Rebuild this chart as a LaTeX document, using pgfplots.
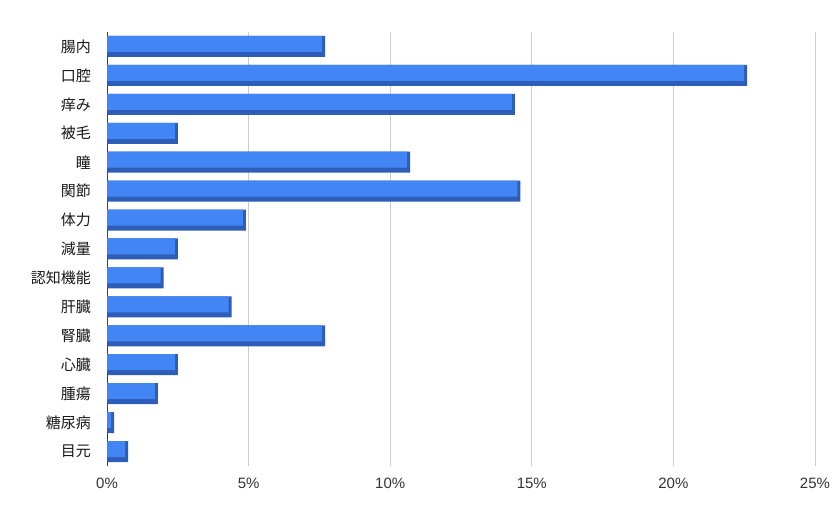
\documentclass[border=0pt]{standalone}
\usepackage{fontspec}
\setmainfont{Noto Sans CJK JP}
\newfontfamily\tickfont{Liberation Sans}
\usepackage{pgfplots}
\usepackage{pgfplotstable}
\pgfplotsset{compat=1.18}

\definecolor{barblue}{HTML}{4285F4}
\definecolor{bardark}{HTML}{2D5DB8}
\definecolor{gridgray}{HTML}{CCCCCC}

% share of answers per topic, %
\pgfplotstableread{
idx val
0  7.7
1  22.6
2  14.4
3  2.5
4  10.7
5  14.6
6  4.9
7  2.5
8  2.0
9  4.4
10 7.7
11 2.5
12 1.8
13 0.25
14 0.75
}\shares

\begin{document}
\begin{tikzpicture}[x=1pt,y=1pt]
\useasboundingbox (-107,-52) rectangle (730,466);
\begin{axis}[
    at={(0,0)}, anchor=south west,
    scale only axis,
    width=708pt, height=434pt,
    xmin=0, xmax=25,
    ymin=-0.5, ymax=14.5,
    y dir=reverse,
    axis y line*=left,
    axis x line*=bottom,
    x axis line style={draw=none},
    y axis line style={draw=black!75, line width=0.8pt},
    major tick length=0pt,
    xtick={0,5,10,15,20,25},
    /pgf/number format/assume math mode=true,
    xticklabel={\pgfmathprintnumber{\tick}\%},
    xticklabel style={font=\tickfont\fontsize{15}{18}\selectfont, text=black!80, inner sep=0pt, yshift=-12pt},
    ytick={0,...,14},
    yticklabels={腸内,口腔,痒み,被毛,瞳,関節,体力,減量,認知機能,肝臓,腎臓,心臓,腫瘍,糖尿病,目元},
    yticklabel style={font=\fontsize{15}{17}\selectfont, text=black!90, inner sep=0pt, xshift=-16pt},
    xmajorgrids,
    grid style={gridgray, line width=0.8pt},
]
\addplot[xbar, bar width=21pt, bar shift=0pt, fill=bardark, draw=none]
    table[x=val, y=idx] {\shares};
\addplot[xbar, bar width=16pt, bar shift=2.5pt, fill=barblue, draw=none, xshift=-3pt]
    table[x=val, y=idx] {\shares};
\end{axis}
\end{tikzpicture}
\end{document}
